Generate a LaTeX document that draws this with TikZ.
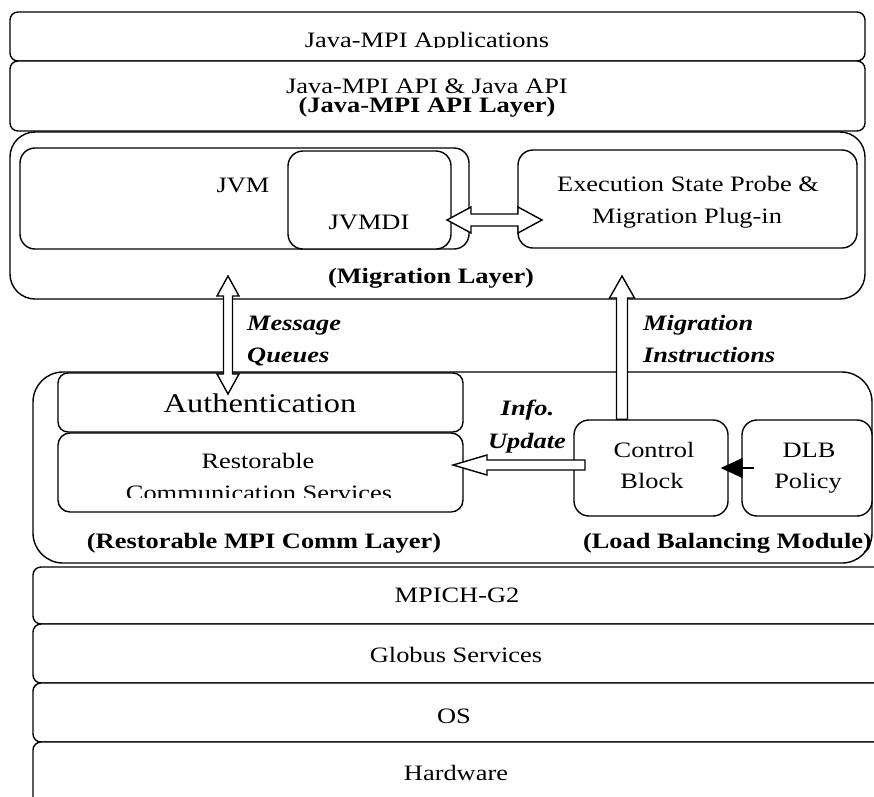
\documentclass[tikz,border=0pt]{standalone}
\usepackage{fontspec}
\setmainfont{Liberation Serif}
\usepackage{graphicx}
\usetikzlibrary{arrows.meta,calc}
\newcommand\sx[1]{\scalebox{1.2}[1]{#1}}
\tikzset{
  box/.style={draw=black, line width=1.4pt, fill=white, inner sep=0pt},
  lbl/.style={inner sep=0pt, anchor=base, font=\fontsize{22}{26}\selectfont},
  blbl/.style={lbl, font=\fontsize{22}{26}\selectfont\bfseries},
  ilbl/.style={lbl, anchor=base west, font=\fontsize{22}{26}\selectfont\bfseries\itshape},
  iclbl/.style={lbl, font=\fontsize{22}{26}\selectfont\bfseries\itshape},
  hollow/.style={draw=black, line width=1.4pt, fill=white, line join=miter},
}
\begin{document}
\begin{tikzpicture}[x=1pt,y=-1pt]
\useasboundingbox (0,0) rectangle (874,796);
\clip (0,0) rectangle (874,796);
% top layers
\node[box, rounded corners=8pt, minimum width=855pt, minimum height=49pt] (app) at (437.5,36.5) {};
\node[box, rounded corners=8pt, minimum width=855pt, minimum height=70pt] (api) at (437.5,96) {};
% migration layer
\node[box, rounded corners=25pt, minimum width=855pt, minimum height=167pt] (mig) at (437.5,215.5) {};
\node[box, rounded corners=15pt, minimum width=449pt, minimum height=101pt] (jvm) at (244.5,198.5) {};
\node[box, rounded corners=15pt, minimum width=163pt, minimum height=98pt] (jvmdi) at (369.5,200) {};
\node[box, rounded corners=15pt, minimum width=339pt, minimum height=98pt] (exec) at (687.5,199) {};
% restorable comm layer
\node[box, rounded corners=30pt, minimum width=839pt, minimum height=191pt] (comm) at (452.5,467.5) {};
\node[box, rounded corners=10pt, minimum width=405pt, minimum height=59pt] (auth) at (260.5,402.5) {};
\node[box, rounded corners=12pt, minimum width=405pt, minimum height=79pt] (rest) at (260.5,472.5) {};
\node[box, rounded corners=15pt, minimum width=154pt, minimum height=96pt] (cb) at (651,468) {};
\node[box, rounded corners=15pt, minimum width=130pt, minimum height=96pt] (dlb) at (807,468) {};
% lower layers
\node[box, rounded corners=8pt, minimum width=852pt, minimum height=57pt] (mpich) at (459,595.5) {};
\node[box, rounded corners=8pt, minimum width=852pt, minimum height=59pt] (globus) at (459,653.5) {};
\node[box, rounded corners=8pt, minimum width=852pt, minimum height=59pt] (os) at (459,712.5) {};
\node[box, rounded corners=8pt, minimum width=852pt, minimum height=88pt] (hw) at (459,786) {};

% arrows
\coordinate (dl) at (447,220);
\coordinate (dr) at (542,220);
\draw[hollow] (dl) -- ++(24,-13) -- ++(0,7) -- ($(dr)+(-24,-6)$) -- ++(0,-7) -- (dr)
  -- ++(-24,13) -- ++(0,-7) -- ($(dl)+(24,6)$) -- ++(0,7) -- cycle;

\coordinate (mqtop) at (228,276);
\coordinate (mqbot) at (228,394);
\draw[hollow] (mqtop) -- ++(11,20) -- ++(-6.5,0) -- ($(mqbot)+(4.5,-20)$) -- ++(6.5,0) -- (mqbot)
  -- ++(-11,-20) -- ++(6.5,0) -- ($(mqtop)+(-4.5,20)$) -- ++(-6.5,0) -- cycle;

\coordinate (mitip) at (622,276);
\coordinate (mitail) at (mitip |- cb.north);
\draw[hollow] (mitip) -- ++(12.5,22) -- ++(-7,0) -- ($(mitail)+(5.5,0)$) -- ($(mitail)+(-5.5,0)$)
  -- ($(mitip)+(-5.5,22)$) -- ++(-7,0) -- cycle;

\coordinate (iutip) at (453,465);
\coordinate (iutail) at (585,465);
\draw[hollow] (iutip) -- ++(34,-10) -- ++(0,5) -- ($(iutail)+(0,-5)$) -- ($(iutail)+(0,5)$)
  -- ($(iutip)+(34,5)$) -- ++(0,5) -- cycle;

\draw[line width=1.4pt, -{Triangle[length=22pt,width=20pt]}] ($(dlb.west)+(13,0)$) -- ($(cb.east)+(-8,0)$);

% texts
\begin{scope}
\clip (10,12) rectangle (865,47.8);
\node[lbl] (tapp) at (427,47) {\sx{Java-MPI Applications}};
\end{scope}
\node[lbl] (tapi1) at (427,93) {\sx{Java-MPI API \& Java API}};
\node[blbl] (tapi2) at (427,112) {\sx{(Java-MPI API Layer)}};
\node[lbl] (tjvm) at (243,192) {\sx{JVM}};
\node[lbl] (tjvmdi) at (369,229) {\sx{JVMDI}};
\node[lbl] (texec1) at (688,191) {\sx{Execution State Probe \&}};
\node[lbl] (texec2) at (687,223) {\sx{Migration Plug-in}};
\node[blbl] (tmig) at (431,283) {\sx{(Migration Layer)}};
\node[ilbl] (tmsg) at (247,330) {\sx{Message}};
\node[ilbl] (tque) at (247,362) {\sx{Queues}};
\node[ilbl] (tmi) at (643,330) {\sx{Migration}};
\node[ilbl] (tins) at (643,362) {\sx{Instructions}};
\node[lbl, font=\fontsize{27}{32}\selectfont] (tauth) at (260,412) {\sx{Authentication}};
\node[lbl] (trest1) at (258,468) {\sx{Restorable}};
\begin{scope}
\clip (58,480) rectangle (463,497.5);
\node[lbl] (trest2) at (259,500) {\sx{Communication Services}};
\end{scope}
\node[blbl] (tcomm) at (264,548) {\sx{(Restorable MPI Comm Layer)}};
\node[iclbl] (tinfo) at (527.5,415) {\sx{Info.}};
\node[iclbl] (tupd) at (527,448) {\sx{Update}};
\node[lbl] (tctl) at (654,457) {\sx{Control}};
\node[lbl] (tblk) at (652,488) {\sx{Block}};
\node[lbl] (tdlb) at (809,457) {\sx{DLB}};
\node[lbl] (tpol) at (808,488) {\sx{Policy}};
\node[blbl] (tlbm) at (727.5,548) {\sx{(Load Balancing Module)}};
\node[lbl] (tmpich) at (457,602) {\sx{MPICH-G2}};
\node[lbl] (tglob) at (456,662) {\sx{Globus Services}};
\node[lbl] (tos) at (454,723) {\sx{OS}};
\node[lbl] (thw) at (456,780) {\sx{Hardware}};
\end{tikzpicture}
\end{document}
